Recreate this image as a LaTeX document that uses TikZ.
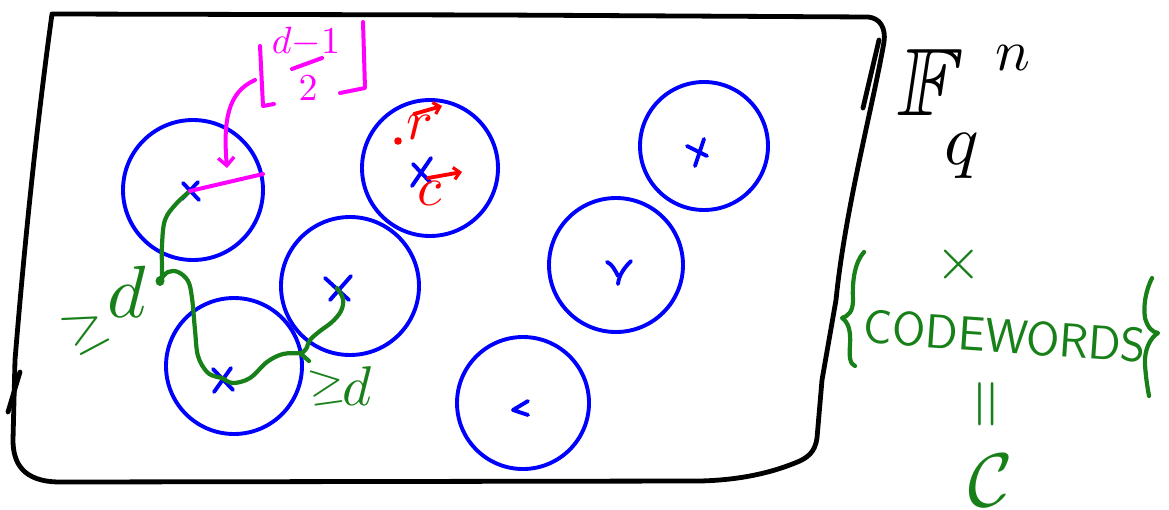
\documentclass[tikz,border=0pt]{standalone}
\usepackage{amssymb}
\usetikzlibrary{arrows.meta}
\definecolor{penblue}{RGB}{0,0,255}
\definecolor{pengreen}{RGB}{24,128,24}
\definecolor{penmag}{RGB}{255,0,255}
\definecolor{penred}{RGB}{255,0,0}
\tikzset{
  ink/.style={line cap=round, line join=round},
  boxline/.style={ink, draw=black, line width=4.8pt},
  ball/.style={circle, draw=penblue, line width=3.9pt, inner sep=0pt, outer sep=0pt},
  word/.style={ink, draw=penblue, line width=3.9pt},
  gpen/.style={ink, draw=pengreen, line width=4.2pt},
  mpen/.style={ink, draw=penmag, line width=4pt},
  rpen/.style={ink, draw=penred, line width=3.8pt},
  hand/.style={inner sep=0pt, outer sep=0pt},
}
\newcommand{\fs}[1]{\fontsize{#1}{#1}\selectfont}
\begin{document}
\begin{tikzpicture}[x=1pt, y=-1pt]
\useasboundingbox (0,0) rectangle (1169,509);

% the ambient space F_q^n
\draw[boxline] (52,14) -- (500,15) -- (868,17)
  .. controls (880,18) and (886,28) .. (884,42)
  .. controls (872,110) and (845,210) .. (836,300)
  -- (822,380) -- (817,438)
  .. controls (815,452) and (808,458) .. (795,463)
  .. controls (770,473) and (740,480) .. (700,481)
  -- (60,482)
  .. controls (22,482) and (13,462) .. (13,440)
  -- (15,360) .. controls (24,250) and (36,130) .. (52,14);
\draw[boxline] (879,40) -- (863,108);
\draw[boxline] (20,372) -- (8,412);

% Hamming balls around the codewords
\node[ball, minimum size=140pt] (b1) at (193,190) {};
\node[ball, minimum size=136pt] (b2) at (234,366) {};
\node[ball, minimum size=138pt] (b3) at (350,286) {};
\node[ball, minimum size=136pt] (b4) at (430,168) {};
\node[ball, minimum size=128pt] (b5) at (704,146) {};
\node[ball, minimum size=134pt] (b6) at (616,265) {};
\node[ball, minimum size=132pt] (b7) at (523,403) {};

% codeword marks
\coordinate (x1) at (190,191);
\coordinate (x2) at (222,378);
\coordinate (x3) at (337,288);
\coordinate (x4) at (421,172);
\coordinate (x5) at (696,152);
\draw[word] ([shift={(-7,-8)}]x1) -- ([shift={(9,9)}]x1) ([shift={(8,-9)}]x1) -- ([shift={(-8,8)}]x1);
\draw[word] ([shift={(-9,-9)}]x2) -- ([shift={(11,12)}]x2) ([shift={(9,-10)}]x2) -- ([shift={(-8,14)}]x2);
\draw[word] ([shift={(-12,-10)}]x3) -- ([shift={(12,12)}]x3) ([shift={(14,-12)}]x3) -- ([shift={(-7,12)}]x3);
\draw[word] ([shift={(-8,-8)}]x4) -- ([shift={(9,10)}]x4) ([shift={(10,-14)}]x4) -- ([shift={(-9,14)}]x4);
\draw[word] ([shift={(-9,-6)}]x5) -- ([shift={(11,4)}]x5) ([shift={(8,-13)}]x5) -- ([shift={(-1,14)}]x5);
\draw[word] (607,262) .. controls (612,264) and (615,270) .. (618,276)
            (631,261) .. controls (624,268) and (619,275) .. (618,284);
\draw[word] (528,401) -- (513,410) -- (528,415);

% minimum distance between codewords
\draw[gpen] plot[smooth, tension=0.6] coordinates {
  (x1) (176,204) (165,220) (162,245) (162,268) (162,280)};
\fill[pengreen] (160,281) ellipse (4.5pt and 5pt);
\draw[gpen] plot[smooth, tension=0.6] coordinates {
  (161,279) (168,272) (178,272) (188,281) (192,298) (195,330)
  (198,356) (207,372) (217,377) (x2) (233,383) (250,378)
  (267,362) (283,354) (300,353) (306,349) (310,340) (320,331)
  (332,322) (341,311) (343,299) (x3)};
\draw[gpen] (300,353) -- (309,361);
\node[hand, text=pengreen, rotate=28, scale=5.4] (geq1) at (86,330) {$\geq$};
\node[hand, text=pengreen, scale=7.4] (d1) at (127,292) {$d$};
\node[hand, text=pengreen, rotate=8, scale=4.6] (geq2) at (327,387) {$\geq$};
\node[hand, text=pengreen, scale=5.6] (d2) at (357,386) {$d$};

% packing radius
\coordinate (rim) at (263,174);
\draw[mpen] (x1) -- (rim);
\node[hand, text=penmag, scale=3.8] (num) at (306,42) {$d{-}1$};
\node[hand, text=penmag, scale=3.8] (den) at (308,88) {$2$};
\draw[mpen] (292,69) -- (322,58);
\draw[mpen] (260,46) -- (263,106) -- (274,104);
\draw[mpen] (363,22) -- (365,88) -- (340,93);
\coordinate (tail) at (255,80);
\coordinate (head) at (227,168);
\draw[mpen, -{Straight Barb[length=8pt, width=16pt, line width=3.4pt]}]
  (tail) .. controls (228,92) and (223,120) .. (head);

% received word r and codeword c
\fill[penred] (398,141) circle (3.8pt);
\node[hand, text=penred, scale=5.6] (r) at (420,127) {$r$};
\draw[rpen, -{Straight Barb[length=6pt, width=12pt, line width=3.2pt]}] (414,114) -- (442,106);
\node[hand, text=penred, scale=5.6] (c) at (430,193) {$c$};
\draw[rpen, -{Straight Barb[length=6pt, width=12pt, line width=3.2pt]}] (428,178) -- (462,172);

% name of the space
\node[hand, xslant=0.15, scale=9.6] (F) at (931,82) {$\mathbb{F}$};
\node[hand, scale=7.2] (q) at (962,156) {$q$};
\node[hand, scale=5.8] (n) at (1013,58) {$n$};

% the code as a set of codewords
\node[hand, text=pengreen, scale=6] (cross) at (959,264) {$\times$};
\draw[gpen] (864,252) .. controls (855,262) and (852,280) .. (853,300)
  .. controls (853,312) and (848,316) .. (842,318)
  .. controls (848,322) and (851,330) .. (850,345)
  .. controls (849,357) and (850,364) .. (855,366);
\node[hand, text=pengreen, rotate=-4] (cw) at (1005,336) {\fs{48}\sffamily CODEWORDS};
\draw[gpen] (1152,278) .. controls (1146,290) and (1143,305) .. (1145,318)
  .. controls (1148,328) and (1152,332) .. (1158,333)
  .. controls (1150,338) and (1144,350) .. (1145,365)
  .. controls (1146,380) and (1148,390) .. (1149,396);
\node[hand, text=pengreen, rotate=90, scale=6.5] (eq) at (991,404) {$=$};
\node[hand, text=pengreen, scale=7.6] (C) at (991,481) {$\mathcal{C}$};
\end{tikzpicture}
\end{document}
